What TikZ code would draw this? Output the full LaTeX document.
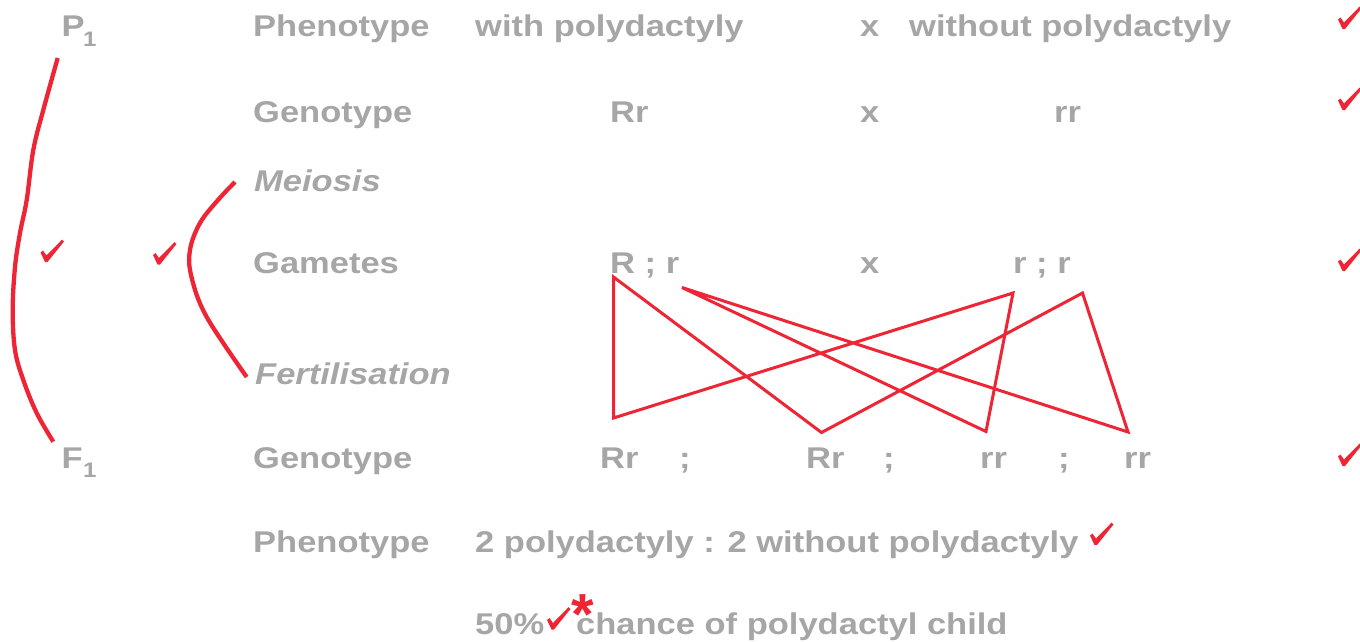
\documentclass[tikz,border=0pt]{standalone}
\usepackage{fontspec}
\setmainfont[FakeStretch=1.15]{Liberation Sans}
\newfontfamily\plainsans{Liberation Sans}
\definecolor{txtgrey}{RGB}{166,166,166}
\definecolor{markred}{RGB}{238,37,53}
\begin{document}
\begin{tikzpicture}[x=1pt,y=-1pt,
  lbl/.style={anchor=base west, inner sep=0pt, text=txtgrey, font=\fontsize{30}{36}\selectfont\bfseries},
  ilbl/.style={lbl, font=\fontsize{30}{36}\selectfont\bfseries\itshape},
  sublbl/.style={lbl, font=\fontsize{21}{24}\selectfont\bfseries},
  redline/.style={draw=markred, line width=3pt, line join=miter},
  bracket/.style={draw=markred, line width=4.3pt},
  ticksym/.pic={\fill[markred] (0,12.5) -- (2.5,10.5) -- (6,15.5) -- (21.5,-0.3) -- (23.5,1.5) -- (7,22) -- (4.5,22) -- cycle;}
]
\path[use as bounding box] (0,0) rectangle (1360,642);
\clip (0,0) rectangle (1360,642);

% generation labels
\node[lbl] (P) at (61.5,37) {P};
\node[sublbl] (Psub) at (83,46.5) {1};
\node[lbl] (F) at (61.5,468) {F};
\node[sublbl] (Fsub) at (83,477) {1};

% row labels
\node[lbl] (phen1) at (253,37) {Phenotype};
\node[lbl] (gen1) at (253,122) {Genotype};
\node[ilbl] (meio) at (254,191) {Meiosis};
\node[lbl] (gam) at (253,273) {Gametes};
\node[ilbl] (fert) at (255,384) {Fertilisation};
\node[lbl] (gen2) at (253,468) {Genotype};
\node[lbl] (phen2) at (253,552) {Phenotype};

% row 1
\node[lbl] (withp) at (475,37) {with polydactyly};
\node[lbl] (x1) at (860,37) {x};
\node[lbl] (withoutp) at (909,37) {without polydactyly};
% row 2
\node[lbl] (Rr1) at (610,122) {Rr};
\node[lbl] (x2) at (860,122) {x};
\node[lbl] (rr1) at (1054,122) {rr};
% gametes
\node[lbl] (gamL) at (610,273) {R ; r};
\node[lbl] (x3) at (860,273) {x};
\node[lbl] (gamR) at (1013,273) {r ; r};
% F1 genotypes
\node[lbl] (o1) at (600,468) {Rr};
\node[lbl] (s1) at (679,468) {;};
\node[lbl] (o2) at (806,468) {Rr};
\node[lbl] (s2) at (883,468) {;};
\node[lbl] (o3) at (980,468) {rr};
\node[lbl] (s3) at (1058,468) {;};
\node[lbl] (o4) at (1124,468) {rr};
% phenotype ratio
\node[lbl] (ratio) at (475,552) {2 polydactyly : 2 without polydactyly};
\node[lbl] (pct) at (475,634) {50\%};
\node[lbl] (chance) at (576,634) {chance of polydactyl child};
\node[anchor=base west, inner sep=0pt, text=markred, font=\plainsans\fontsize{58}{60}\selectfont\bfseries] (ast) at (571,634.5) {*};

% fertilisation lines
\coordinate (gR) at (613.5,277);
\coordinate (gr) at (682,287.5);
\coordinate (bL) at (613.5,418);
\coordinate (rA) at (1013,293);
\coordinate (rB) at (1082.5,293);
\coordinate (f1) at (821.5,432.5);
\coordinate (f3) at (986,431.5);
\coordinate (f4) at (1128,432);
\draw[redline] (gr) -- (f3) -- (rA) -- (bL) -- (gR) -- (f1) -- (rB) -- (f4) -- cycle;

% brackets
\draw[bracket] plot[smooth, tension=0.6] coordinates {(57.7,58) (43.3,110) (33.3,150) (26.7,200) (20,233) (15,267) (12.7,310) (15,350) (23.3,380) (36.7,413) (53.3,441.7)};
\draw[bracket] plot[smooth, tension=0.6] coordinates {(235,182) (218,200) (200,223) (190,250) (191.5,277) (206.7,317) (246.7,377)};

% ticks
\pic at (40.5,240) {ticksym};
\pic at (153,242.5) {ticksym};
\pic at (1338,7) {ticksym};
\pic at (1338,88) {ticksym};
\pic at (1338,249) {ticksym};
\pic at (1338,444) {ticksym};
\pic at (1090,523) {ticksym};
\pic at (547,607.5) {ticksym};
\end{tikzpicture}
\end{document}
